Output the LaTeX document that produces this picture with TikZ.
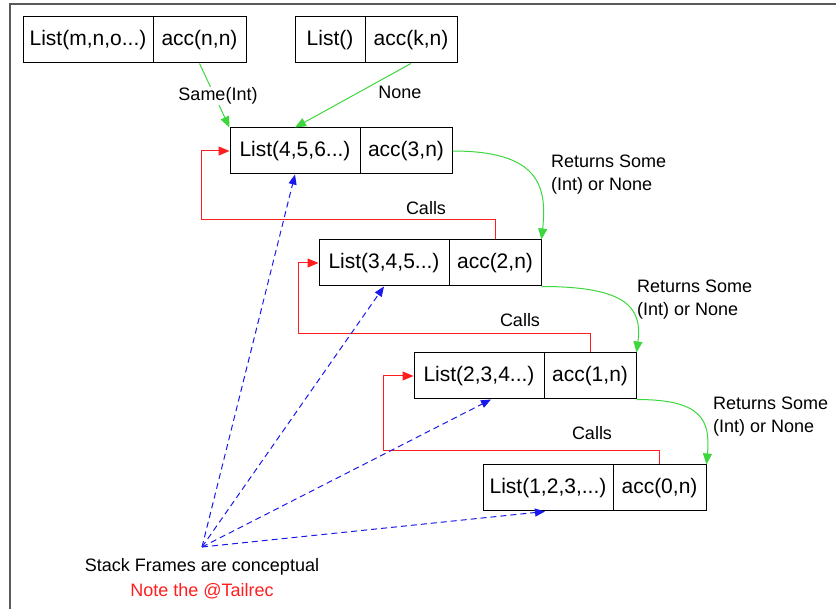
\documentclass[tikz,border=0pt]{standalone}
\usepackage{fontspec}
\setmainfont{Liberation Sans}
\usetikzlibrary{arrows.meta,calc}
\definecolor{gr}{RGB}{60,215,60}
\definecolor{rd}{RGB}{255,30,30}
\definecolor{bl}{RGB}{25,25,235}
\definecolor{fr}{RGB}{90,90,90}
\begin{document}
\begin{tikzpicture}[x=1pt,y=-1pt,
  cell/.style={draw=black, line width=1pt, minimum height=46pt, inner sep=0pt, font=\fontsize{21}{24}\selectfont},
  lab/.style={font=\fontsize{18}{23}\selectfont, inner sep=1pt},
  tip/.style={-{Triangle[length=11pt,width=9pt]}},
  gline/.style={draw=gr, line width=1pt, tip},
  rline/.style={draw=rd, line width=1pt, tip},
  bline/.style={draw=bl, line width=1pt, dash pattern=on 6pt off 4pt, -{Triangle[length=10pt,width=8pt]}}]
\useasboundingbox (0,0) rectangle (836,609);
\draw[fr, line width=1.2pt] (10,620) -- (10,4) -- (850,4);

% top boxes
\node[cell, minimum width=130pt] (aL) at (88,40) {List(m,n,o...)};
\node[cell, minimum width=93pt] (aR) at (199.5,40) {acc(n,n)};
\node[cell, minimum width=70pt] (bL) at (330,40) {List()};
\node[cell, minimum width=92pt] (bR) at (411,40) {acc(k,n)};

% stack frames
\node[cell, minimum width=130pt] (c1L) at (295,151) {List(4,5,6...)};
\node[cell, minimum width=92pt] (c1R) at (406,151) {acc(3,n)};
\node[cell, minimum width=130pt] (c2L) at (384,263) {List(3,4,5...)};
\node[cell, minimum width=92pt] (c2R) at (495,263) {acc(2,n)};
\node[cell, minimum width=130pt] (c3L) at (479,376) {List(2,3,4...)};
\node[cell, minimum width=92pt] (c3R) at (590,376) {acc(1,n)};
\node[cell, minimum width=130pt] (c4L) at (548,488) {List(1,2,3,...)};
\node[cell, minimum width=93pt] (c4R) at (659.5,488) {acc(0,n)};

% green connectors from the top boxes
\draw[gline] (aR.south) -- (c1L.north west);
\node[lab, fill=white] (same) at (218,96) {Same(Int)};
\draw[gline] (bR.south) -- (c1L.north);
\node[lab] (none) at (400,92) {None};

% green returns
\draw[gline] (c1R.east) .. controls +(85pt,0pt) and +(6pt,55pt) .. (c2R.north east);
\draw[gline] (c2R.south east) .. controls +(85pt,0pt) and +(6pt,45pt) .. (c3R.north east);
\draw[gline] (c3R.south east) .. controls +(65pt,0pt) and +(4pt,45pt) .. (c4R.north east);
\node[lab, align=left, anchor=west] (r1) at (550,174.5) {Returns Some\\(Int) or None};
\node[lab, align=left, anchor=west] (r2) at (636,299.5) {Returns Some\\(Int) or None};
\node[lab, align=left, anchor=west] (r3) at (712,416.5) {Returns Some\\(Int) or None};

% red calls
\draw[rline] (c2R.north) -- ++(0,20pt) -| ($(c1L.west)+(-28pt,0)$) -- (c1L.west);
\draw[rline] (c3R.north) -- ++(0,19pt) -| ($(c2L.west)+(-20pt,0)$) -- (c2L.west);
\draw[rline] (c4R.north) -- ++(0,14pt) -| ($(c3L.west)+(-30pt,0)$) -- (c3L.west);
\node[lab] (k1) at (426,208) {Calls};
\node[lab] (k2) at (520,320) {Calls};
\node[lab] (k3) at (592,433) {Calls};

% blue conceptual
\coordinate (orig) at (202,547);
\draw[bline] (orig) -- (c1L.south);
\draw[bline] (orig) -- (c2L.south);
\draw[bline] (orig) -- ($(c3L.south)+(12pt,0)$);
\draw[bline] (orig) -- ($(c4L.south)+(-3pt,0)$);
\node[lab] (sf) at (202,567) {Stack Frames are conceptual};
\node[lab, text=rd] (nt) at (202,591) {Note the @Tailrec};
\end{tikzpicture}
\end{document}
